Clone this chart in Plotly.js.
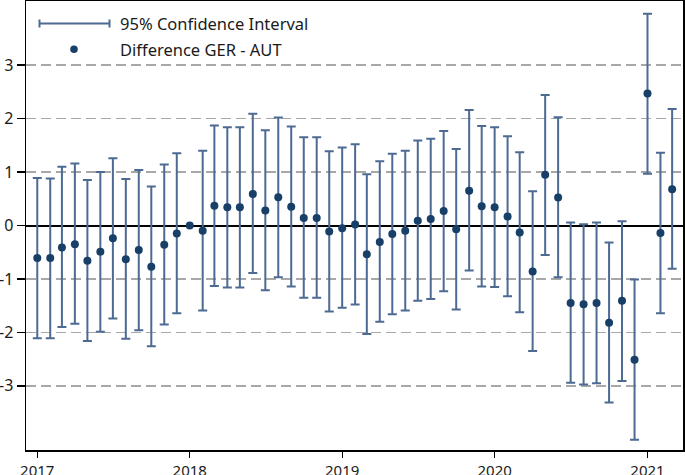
<!DOCTYPE html>
<html>
<head>
<meta charset="utf-8">
<script src="https://cdn.plot.ly/plotly-3.0.1.min.js"></script>
<style>html,body{margin:0;padding:0;background:#fff;}#chart{width:685px;height:475px;}</style>
</head>
<body>
<div id="chart"></div>
<script>
var months = [
  "2017-01-01","2017-02-01","2017-03-01","2017-04-01","2017-05-01","2017-06-01",
  "2017-07-01","2017-08-01","2017-09-01","2017-10-01","2017-11-01","2017-12-01",
  "2018-01-01","2018-02-01","2018-03-01","2018-04-01","2018-05-01","2018-06-01",
  "2018-07-01","2018-08-01","2018-09-01","2018-10-01","2018-11-01","2018-12-01",
  "2019-01-01","2019-02-01","2019-03-01","2019-04-01","2019-05-01","2019-06-01",
  "2019-07-01","2019-08-01","2019-09-01","2019-10-01","2019-11-01","2019-12-01",
  "2020-01-01","2020-02-01","2020-03-01","2020-04-01","2020-05-01","2020-06-01",
  "2020-07-01","2020-08-01","2020-09-01","2020-10-01","2020-11-01","2020-12-01",
  "2021-01-01","2021-02-01","2021-03-01"
];
var difference = [
  -0.61,-0.61,-0.41,-0.35,-0.66,-0.49,-0.24,-0.63,-0.46,-0.77,-0.36,-0.15,
  0.00,-0.10,0.37,0.34,0.34,0.59,0.28,0.53,0.35,0.14,0.14,-0.11,
  -0.05,0.02,-0.54,-0.31,-0.16,-0.10,0.09,0.12,0.27,-0.07,0.65,0.36,
  0.34,0.17,-0.13,-0.86,0.95,0.525,-1.45,-1.475,-1.45,-1.82,-1.41,-2.51,
  2.47,-0.14,0.68
];
var ciUpper = [
  0.89,0.88,1.10,1.16,0.85,1.00,1.26,0.87,1.04,0.73,1.14,1.35,
  null,1.40,1.87,1.84,1.84,2.09,1.78,2.02,1.85,1.65,1.65,1.39,
  1.46,1.52,0.96,1.20,1.34,1.40,1.59,1.625,1.77,1.43,2.16,1.86,
  1.84,1.67,1.37,0.64,2.44,2.025,0.056,0.025,0.056,-0.32,0.08,-1.01,
  3.96,1.36,2.18
];
var ciLower = [
  -2.11,-2.11,-1.90,-1.84,-2.16,-1.99,-1.74,-2.12,-1.96,-2.26,-1.85,-1.64,
  null,-1.59,-1.13,-1.16,-1.16,-0.89,-1.21,-0.97,-1.14,-1.35,-1.35,-1.61,
  -1.54,-1.48,-2.03,-1.80,-1.66,-1.59,-1.41,-1.375,-1.23,-1.57,-0.84,-1.14,
  -1.15,-1.325,-1.625,-2.35,-0.55,-0.97,-2.94,-2.975,-2.95,-3.31,-2.91,-4.01,
  0.97,-1.64,-0.81
];
var xTickVals = ["2017-01-01","2018-01-01","2019-01-01","2020-01-01","2021-01-01"];
var xTickText = ["2017","2018","2019","2020","2021"];
var yTickVals = [-3,-2,-1,0,1,2,3];
var yTickText = ["-3","-2","-1","0","1","2","3"];
var legendLabels = ["95% Confidence Interval","Difference GER - AUT"];

var barColor = "#4d6a93";
var dotColor = "#173f68";
var FONT = "Noto Sans, Open Sans, sans-serif";

var errPlus = difference.map(function(v,i){ return ciUpper[i] === null ? NaN : ciUpper[i]-v; });
var errMinus = difference.map(function(v,i){ return ciLower[i] === null ? NaN : v-ciLower[i]; });

var trace = {
  type: "scatter", mode: "markers",
  x: months, y: difference,
  marker: {color: dotColor, size: 8},
  error_y: {type: "data", symmetric: false, array: errPlus, arrayminus: errMinus,
            color: barColor, thickness: 2, width: 4.5},
  showlegend: false, hoverinfo: "x+y"
};

// plot area in pixels: x 26..683, y 1..450
function px(x){ return (x-26)/657; }
function py(y){ return (450-y)/449; }

var shapes = [
  {type:"rect", xref:"paper", yref:"paper", x0:px(28), x1:px(329), y0:py(80), y1:py(3),
   fillcolor:"#ffffff", line:{width:0}, layer:"between"},
  {type:"line", xref:"paper", yref:"paper", x0:px(39.5), x1:px(109.5), y0:py(23.5), y1:py(23.5),
   line:{color:barColor, width:2}},
  {type:"line", xref:"paper", yref:"paper", x0:px(39.5), x1:px(39.5), y0:py(19.5), y1:py(27.5),
   line:{color:barColor, width:2}},
  {type:"line", xref:"paper", yref:"paper", x0:px(109.5), x1:px(109.5), y0:py(19.5), y1:py(27.5),
   line:{color:barColor, width:2}},
  {type:"circle", xref:"paper", yref:"paper", x0:px(70.2), x1:px(77.8), y0:py(53.1), y1:py(45.5),
   fillcolor:dotColor, line:{color:dotColor, width:0}}
];

var annotations = [
  {xref:"paper", yref:"paper", x:px(118), y:py(23.5), xanchor:"left", yanchor:"middle",
   text:legendLabels[0], showarrow:false, font:{family:FONT, size:16.5, color:"#1a1a1a"}},
  {xref:"paper", yref:"paper", x:px(118), y:py(49.3), xanchor:"left", yanchor:"middle",
   text:legendLabels[1], showarrow:false, font:{family:FONT, size:16.5, color:"#1a1a1a"}}
];

var layout = {
  width: 685, height: 475,
  margin: {l: 26, r: 2, t: 1, b: 25, pad: 0},
  paper_bgcolor: "#ffffff", plot_bgcolor: "#ffffff",
  font: {family: FONT, size: 16, color: "#1a1a1a"},
  showlegend: false,
  xaxis: {
    type: "date", range: ["2016-12-05", "2021-03-27"],
    tickmode: "array", tickvals: xTickVals, ticktext: xTickText,
    ticks: "outside", ticklen: 6, tickwidth: 1.3, tickcolor: "#000",
    showgrid: false, zeroline: false,
    showline: true, linecolor: "#000", linewidth: 1.5, mirror: true,
    tickfont: {family: FONT, size: 15, color: "#1a1a1a"}
  },
  yaxis: {
    range: [-4.2, 4.2],
    tickmode: "array", tickvals: yTickVals, ticktext: yTickText,
    ticks: "outside", ticklen: 8, tickwidth: 1.3, tickcolor: "#000",
    showgrid: true, gridcolor: "#a8a8a8", gridwidth: 1.3, griddash: "10px,5px",
    zeroline: true, zerolinecolor: "#000", zerolinewidth: 2,
    showline: true, linecolor: "#000", linewidth: 1.5, mirror: true,
    tickfont: {family: FONT, size: 16, color: "#1a1a1a"}
  },
  shapes: shapes,
  annotations: annotations
};

Plotly.newPlot("chart", [trace], layout, {displayModeBar: false, staticPlot: true});
</script>
</body>
</html>
